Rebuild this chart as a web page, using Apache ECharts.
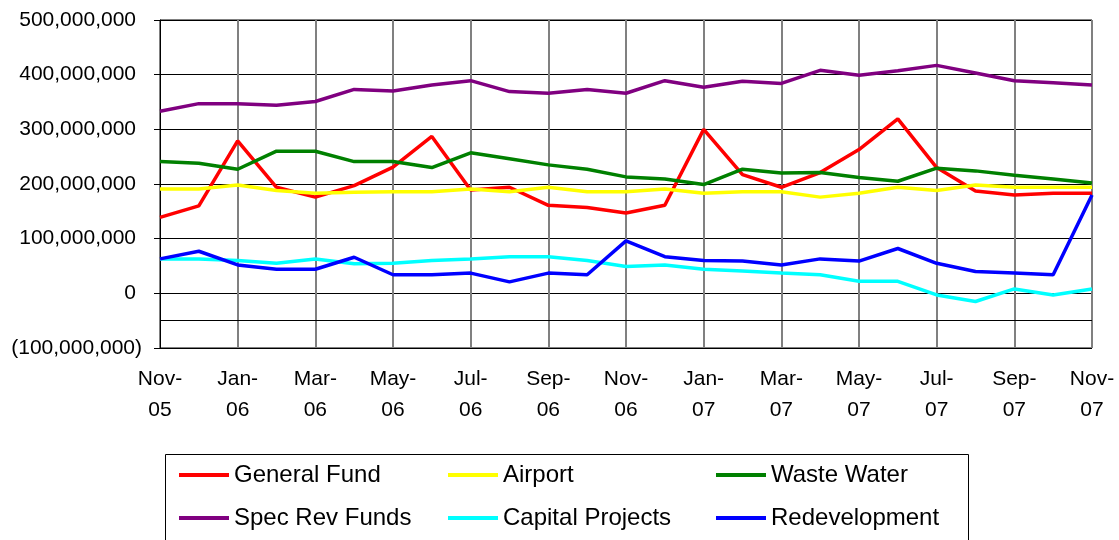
<!DOCTYPE html>
<html>
<head>
<meta charset="utf-8">
<script src="https://cdn.jsdelivr.net/npm/echarts@6/dist/echarts.min.js"></script>
<style>
  html, body { margin: 0; padding: 0; background: #fff; }
  #chart { width: 1119px; height: 540px; }
</style>
</head>
<body>
<div id="chart"></div>
<script>
// 月度余额（单位：百万）
const MONTHS = [
  'Nov-05', 'Dec-05', 'Jan-06', 'Feb-06', 'Mar-06', 'Apr-06', 'May-06', 'Jun-06', 'Jul-06',
  'Aug-06', 'Sep-06', 'Oct-06', 'Nov-06', 'Dec-06', 'Jan-07', 'Feb-07', 'Mar-07', 'Apr-07',
  'May-07', 'Jun-07', 'Jul-07', 'Aug-07', 'Sep-07', 'Oct-07', 'Nov-07',
];
const GENERAL_FUND = [139, 160, 279, 194, 176, 197, 231, 287, 189, 194, 161, 157, 147, 161, 300, 217, 194, 221, 263, 319, 230, 187, 180, 183, 183];
const AIRPORT = [191, 191, 198, 188, 183, 185, 186, 186, 191, 186, 194, 186, 186, 191, 183, 186, 186, 176, 183, 194, 188, 198, 194, 194, 194];
const WASTE_WATER = [241, 238, 227, 260, 260, 241, 241, 230, 257, 246, 235, 227, 213, 209, 199, 227, 220, 221, 212, 205, 229, 224, 216, 209, 202];
const SPEC_REV = [333, 347, 347, 344, 351, 373, 370, 381, 389, 369, 366, 373, 366, 389, 377, 388, 384, 408, 399, 407, 417, 403, 389, 385, 381];
const CAPITAL = [63, 63, 60, 55, 63, 54, 55, 60, 63, 67, 67, 60, 49, 52, 44, 41, 37, 34, 22, 22, -3, -15, 8, -3, 8];
const REDEVELOPMENT = [63, 77, 52, 44, 44, 66, 34, 34, 37, 21, 37, 34, 96, 67, 60, 59, 52, 63, 59, 82, 55, 40, 37, 34, 180];

const Y_MIN = -100000000;
const Y_MAX = 500000000;
const Y_STEP = 100000000;
const X_AXIS_CROSS = -50000000; // Excel 的分类轴横在 -50M 处

const FONT = '"Liberation Sans", Arial, sans-serif';

const SERIES = [
  ['General Fund', GENERAL_FUND, '#FF0000'],
  ['Airport', AIRPORT, '#FFFF00'],
  ['Waste Water', WASTE_WATER, '#008000'],
  ['Spec Rev Funds', SPEC_REV, '#800080'],
  ['Capital Projects', CAPITAL, '#00FFFF'],
  ['Redevelopment', REDEVELOPMENT, '#0000FF'],
];

// 图例 3 列 × 2 行，逐项摆放
const LEGEND_COLS = [179, 448, 716];
const LEGEND_ROWS = [461, 504];

function fmtY(v) {
  const s = Math.abs(v).toLocaleString('en-US');
  return v < 0 ? `(${s})` : `{p|${s}}`;
}

function legendItem(name, i) {
  return {
    left: LEGEND_COLS[i % 3], top: LEGEND_ROWS[Math.floor(i / 3)], data: [name],
    padding: 0, icon: 'rect', itemWidth: 50, itemHeight: 4,
    textStyle: { fontFamily: FONT, fontSize: 24, color: '#000', lineHeight: 28 },
    selectedMode: false,
  };
}

const chart = echarts.init(document.getElementById('chart'), null, { renderer: 'canvas' });
chart.setOption({
  animation: false,
  grid: { left: 160, right: 27, top: 20, bottom: 192, show: true, borderColor: '#000', borderWidth: 1 },
  legend: SERIES.map(([name], i) => legendItem(name, i)),
  graphic: [{
    type: 'rect', left: 165, top: 454, z: -1,
    shape: { width: 803, height: 100 },
    style: { fill: '#fff', stroke: '#000', lineWidth: 1 },
  }],
  xAxis: {
    type: 'category', data: MONTHS, boundaryGap: false,
    axisLine: { show: false },
    axisTick: { show: false },
    axisLabel: {
      interval: 1, margin: 16, color: '#000', fontFamily: FONT, fontSize: 21, lineHeight: 31,
      formatter: (v) => v.replace('-', '-\n'),
    },
    splitLine: { show: true, interval: 1, lineStyle: { color: '#808080', width: 2 } },
  },
  yAxis: {
    type: 'value', min: Y_MIN, max: Y_MAX, interval: Y_STEP,
    axisLine: { show: true, lineStyle: { color: '#000', width: 1 } },
    axisTick: { show: true, length: 6, lineStyle: { color: '#000' } },
    axisLabel: {
      margin: 18, color: '#000', fontFamily: FONT, fontSize: 21,
      formatter: fmtY,
      rich: { p: { fontFamily: FONT, fontSize: 21, color: '#000', padding: [0, 6, 0, 0] } },
    },
    splitLine: { show: true, lineStyle: { color: '#000', width: 1 } },
  },
  series: SERIES.map(([name, vals, color], i) => ({
    name, type: 'line', symbol: 'none', color,
    lineStyle: { width: 3.5, color },
    data: vals.map((v) => v * 1000000),
    z: 2 + i,
    markLine: i === 0 ? {
      silent: true, symbol: 'none', label: { show: false },
      lineStyle: { color: '#000', width: 1, type: 'solid' },
      data: [{ yAxis: X_AXIS_CROSS }],
    } : undefined,
  })),
});
</script>
</body>
</html>
